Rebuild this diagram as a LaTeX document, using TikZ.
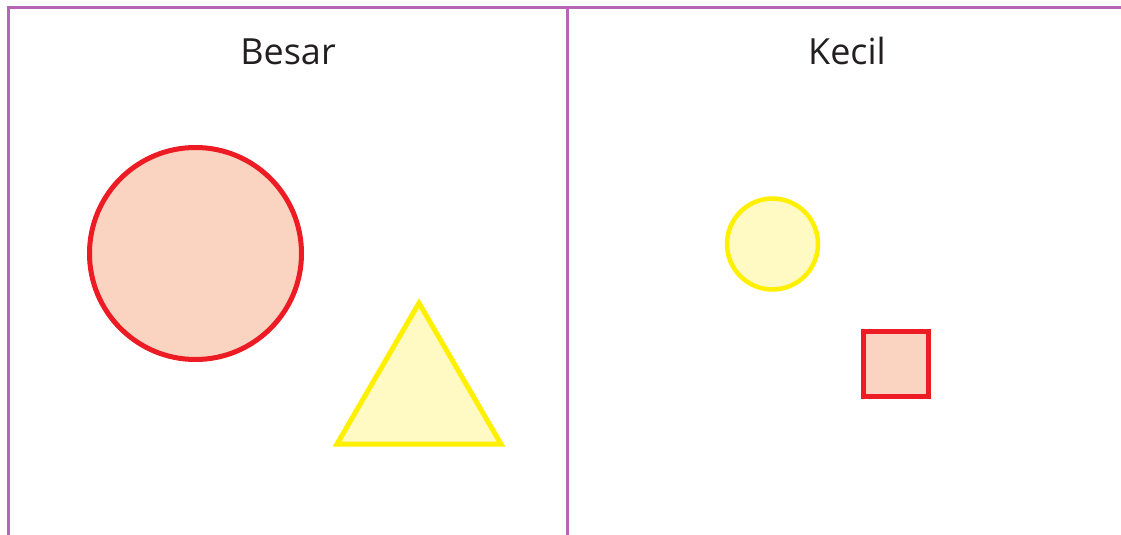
\documentclass[tikz,border=0pt]{standalone}
\usepackage{fontspec}
\setmainfont{Open Sans}
\definecolor{frame}{RGB}{181,102,181}
\definecolor{redline}{RGB}{237,28,36}
\definecolor{redfill}{RGB}{251,212,193}
\definecolor{yelline}{RGB}{255,240,0}
\definecolor{yelfill}{RGB}{255,249,196}
\definecolor{txt}{RGB}{35,31,32}
\begin{document}
\begin{tikzpicture}[x=1pt,y=-1pt,
  framed/.style={draw=frame,line width=3pt},
  title/.style={text=txt,font=\fontsize{36}{40}\selectfont,inner sep=0pt,anchor=base},
  redshape/.style={draw=redline,fill=redfill,line width=5pt},
  yelshape/.style={draw=yelline,fill=yelfill,line width=5pt}]
\useasboundingbox (0,0) rectangle (1121,535);
\draw[framed] (8.5,535) -- (8.5,7.5) -- (1121,7.5);
\draw[framed] (567.5,7.5) -- (567.5,535);
\node[title] (besar) at (288,64) {Besar};
\node[title] (kecil) at (847,64) {Kecil};
\draw[redshape] (195.5,253.5) circle (106);
\draw[yelshape,line join=miter] (419,303) -- (501,444) -- (337,444) -- cycle;
\draw[yelshape,line width=4.5pt] (772.5,244) circle (45.5);
\draw[redshape] (863.5,331.5) rectangle (928.5,396.5);
\end{tikzpicture}
\end{document}
